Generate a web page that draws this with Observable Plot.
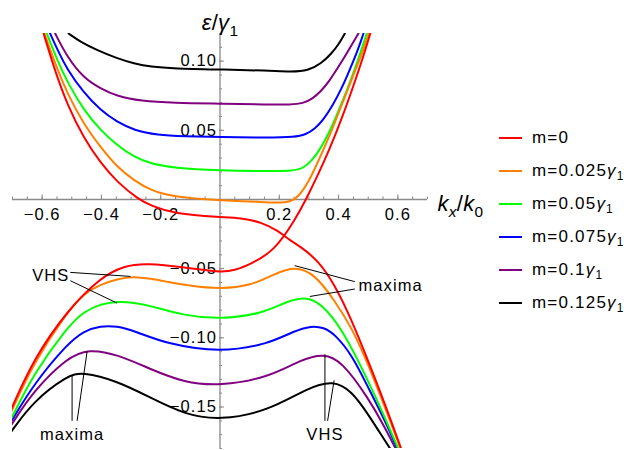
<!DOCTYPE html>
<html><head><meta charset="utf-8">
<script src="https://cdn.jsdelivr.net/npm/d3@7"></script>
<script src="https://cdn.jsdelivr.net/npm/@observablehq/plot@0.6"></script>
<style>
body{margin:0;background:#fff;}
#wrap{position:relative;width:624px;height:450px;font-family:"Liberation Sans",Arial,sans-serif;overflow:hidden;}
#legend{position:absolute;left:499px;top:122px;}
.row{display:flex;align-items:center;height:32.9px;font-size:17px;letter-spacing:1.2px;white-space:nowrap;color:#000;}
.sw{width:23px;height:2px;margin-right:10px;flex:none;}
.row sub{font-size:70%;vertical-align:-0.35em;line-height:0;}
</style></head><body><div id="wrap"><div id="legend"></div></div>
<script>
// ---- data (kx/k0, ε/γ1) ----
const seriesLabels = ["m=0", "m=0.025", "m=0.05", "m=0.075", "m=0.1", "m=0.125"];
const seriesColors = ["#ff0000", "#ff8000", "#00ff00", "#0000ff", "#800080", "#000000"];

// m = 0 (two crossing branches)
const red1 = [[-0.595,0.12],[-0.556,0.0925],[-0.516,0.069],[-0.46,0.0445],[-0.403,0.0265],[-0.347,0.0125],[-0.274,0],[-0.234,-0.0043],[-0.155,-0.0104],[0,-0.0128],[0.071,-0.0132],[0.139,-0.0164],[0.196,-0.0225],[0.229,-0.0285],[0.275,-0.0346],[0.331,-0.0442],[0.387,-0.0615],[0.444,-0.087],[0.5,-0.1167],[0.557,-0.148],[0.61,-0.1795]];
const red2 = [[-0.703,-0.151],[-0.629,-0.1155],[-0.516,-0.0804],[-0.403,-0.0563],[-0.324,-0.0478],[-0.245,-0.0461],[-0.121,-0.049],[0,-0.0527],[0.048,-0.0514],[0.105,-0.0466],[0.184,-0.037],[0.252,-0.0152],[0.29,0],[0.33,0.0175],[0.37,0.0365],[0.41,0.058],[0.45,0.082],[0.48,0.101],[0.507,0.12]];
// m = 0.025
const orangeUp = [[-0.592,0.12],[-0.556,0.098],[-0.516,0.077],[-0.46,0.0545],[-0.403,0.0379],[-0.347,0.0234],[-0.29,0.0138],[-0.234,0.0065],[-0.155,0.0017],[0,-0.0007],[0.105,-0.0012],[0.196,-0.0027],[0.24,-0.0015],[0.265,0.002],[0.3,0.013],[0.33,0.027],[0.37,0.046],[0.41,0.068],[0.45,0.09],[0.48,0.106],[0.502,0.12]];
const orangeLo = [[-0.703,-0.153],[-0.629,-0.118],[-0.516,-0.0815],[-0.46,-0.068],[-0.403,-0.0615],[-0.347,-0.0575],[-0.295,-0.0556],[-0.234,-0.0572],[-0.177,-0.0595],[-0.1,-0.0625],[0,-0.0647],[0.105,-0.0623],[0.184,-0.0538],[0.252,-0.0483],[0.32,-0.0538],[0.387,-0.0732],[0.444,-0.0925],[0.5,-0.119],[0.557,-0.1505],[0.608,-0.1795]];
// m = 0.05
const greenUp = [[-0.584,0.12],[-0.55,0.1012],[-0.516,0.0852],[-0.46,0.0648],[-0.403,0.05],[-0.347,0.0391],[-0.29,0.0307],[-0.234,0.0259],[-0.155,0.0227],[0,0.021],[0.162,0.0205],[0.25,0.0208],[0.28,0.0225],[0.31,0.028],[0.34,0.037],[0.37,0.049],[0.4,0.064],[0.43,0.08],[0.46,0.097],[0.495,0.12]];
const greenLo = [[-0.703,-0.158],[-0.629,-0.126],[-0.516,-0.0925],[-0.46,-0.081],[-0.403,-0.0756],[-0.347,-0.0737],[-0.29,-0.0745],[-0.234,-0.0768],[-0.121,-0.084],[0,-0.0865],[0.139,-0.0828],[0.229,-0.0732],[0.295,-0.0703],[0.342,-0.0756],[0.41,-0.0925],[0.5,-0.131],[0.557,-0.158],[0.605,-0.182]];
// m = 0.075
const blueUp = [[-0.573,0.12],[-0.545,0.1068],[-0.516,0.0942],[-0.46,0.0772],[-0.403,0.0645],[-0.347,0.056],[-0.29,0.05],[-0.211,0.0466],[-0.121,0.0457],[0,0.0451],[0.162,0.0447],[0.252,0.0451],[0.29,0.047],[0.32,0.051],[0.35,0.058],[0.38,0.068],[0.41,0.08],[0.44,0.095],[0.465,0.108],[0.484,0.12]];
const blueLo = [[-0.703,-0.16],[-0.629,-0.1336],[-0.516,-0.1046],[-0.46,-0.095],[-0.403,-0.0913],[-0.347,-0.0915],[-0.29,-0.0949],[-0.177,-0.1046],[0,-0.1106],[0.162,-0.1046],[0.25,-0.095],[0.308,-0.0913],[0.35,-0.0925],[0.387,-0.0973],[0.444,-0.1119],[0.5,-0.136],[0.557,-0.16],[0.602,-0.182]];
// m = 0.1
const purpleUp = [[-0.556,0.12],[-0.516,0.1031],[-0.46,0.0878],[-0.403,0.0802],[-0.347,0.0746],[-0.268,0.0712],[-0.155,0.0698],[0,0.0693],[0.162,0.0686],[0.24,0.0686],[0.28,0.0695],[0.31,0.0725],[0.34,0.078],[0.37,0.086],[0.4,0.096],[0.43,0.1065],[0.467,0.12]];
const purpleLo = [[-0.703,-0.1626],[-0.629,-0.1384],[-0.516,-0.1143],[-0.443,-0.108],[-0.347,-0.1119],[-0.234,-0.1227],[-0.121,-0.1324],[0,-0.1348],[0.162,-0.1288],[0.275,-0.1155],[0.35,-0.1114],[0.41,-0.1167],[0.5,-0.1433],[0.557,-0.165],[0.597,-0.182]];
// m = 0.125
const blackUp = [[-0.511,0.12],[-0.471,0.114],[-0.415,0.108],[-0.347,0.102],[-0.29,0.0983],[-0.234,0.0959],[-0.155,0.0947],[0,0.094],[0.162,0.0932],[0.24,0.0922],[0.297,0.093],[0.342,0.0983],[0.376,0.1056],[0.399,0.1116],[0.421,0.12]];
const blackLo = [[-0.703,-0.1674],[-0.629,-0.1457],[-0.516,-0.1275],[-0.465,-0.1246],[-0.347,-0.1312],[-0.234,-0.1433],[-0.121,-0.1553],[0,-0.1597],[0.162,-0.1529],[0.297,-0.136],[0.382,-0.1307],[0.444,-0.1384],[0.5,-0.1553],[0.557,-0.1746],[0.58,-0.182]];

const seriesBands = [[red1, red2],[orangeUp, orangeLo],[greenUp, greenLo],[blueUp, blueLo],[purpleUp, purpleLo],[blackUp, blackLo]];

// ticks
const xMajorTicks = [-0.6, -0.4, -0.2, 0.2, 0.4, 0.6];
const xTickLabels = ["−0.6", "−0.4", "−0.2", "0.2", "0.4", "0.6"];
const yMajorTicks = [-0.15, -0.10, -0.05, 0.05, 0.10];
const yTickLabels = ["−0.15", "−0.10", "−0.05", "0.05", "0.10"];

// annotations
const noteTexts = [
  {x: -0.571, y: -0.0551, text: "VHS", anchor: "middle"},
  {x: 0.467, y: -0.0625, text: "maxima", anchor: "start"},
  {x: -0.499, y: -0.1703, text: "maxima", anchor: "middle"},
  {x: 0.354, y: -0.1703, text: "VHS", anchor: "middle"}
];
const leaders = [
  {x1: -0.505, y1: -0.0527, x2: -0.302, y2: -0.0556},
  {x1: -0.505, y1: -0.0587, x2: -0.347, y2: -0.0749},
  {x1: 0.455, y1: -0.0594, x2: 0.252, y2: -0.0478},
  {x1: 0.455, y1: -0.0647, x2: 0.303, y2: -0.0701},
  {x1: -0.499, y1: -0.160, x2: -0.499, y2: -0.1275},
  {x1: -0.482, y1: -0.160, x2: -0.448, y2: -0.1094},
  {x1: 0.354, y1: -0.160, x2: 0.354, y2: -0.1118},
  {x1: 0.363, y1: -0.160, x2: 0.385, y2: -0.1307}
];

// ---- build ----
const rows = [];
seriesBands.forEach((bands, si) => bands.forEach((pts, bi) => pts.forEach(p => rows.push({s: si, band: si + "-" + bi, x: p[0], y: p[1]}))));
const drawOrder = [5, 4, 3, 2, 1, 0];
const xMinor = d3.range(-0.7, 0.7001, 0.05).map(v => +v.toFixed(2)).filter(v => Math.abs(v) > 1e-9);
const yMinor = d3.range(-0.18, 0.1201, 0.01).map(v => +v.toFixed(2)).filter(v => Math.abs(v) > 1e-9);
const AX = "#8a8a8a";

const chart = Plot.plot({
  width: 624, height: 450,
  marginLeft: 12, marginRight: 197, marginTop: 33, marginBottom: 2,
  x: {domain: [-0.7, 0.7], axis: null},
  y: {domain: [-0.18, 0.12], axis: null},
  style: {fontFamily: "'Liberation Sans', Arial, sans-serif", fontSize: "16.5px", background: "transparent", overflow: "visible", letterSpacing: "1.1px"},
  marks: [
    Plot.ruleY([0], {stroke: AX, strokeWidth: 1.3}),
    Plot.ruleX([0], {stroke: AX, strokeWidth: 1.3}),
    Plot.ruleX(xMinor, {x: d => d, y1: () => 0, y2: () => 0, insetTop: -2.5, stroke: AX, strokeWidth: 1}),
    Plot.ruleX(xMajorTicks, {x: d => d, y1: () => 0, y2: () => 0, insetTop: -4.5, stroke: AX, strokeWidth: 1}),
    Plot.ruleY(yMinor, {y: d => d, x1: () => 0, x2: () => 0, insetRight: -2.5, stroke: AX, strokeWidth: 1}),
    Plot.ruleY(yMajorTicks, {y: d => d, x1: () => 0, x2: () => 0, insetRight: -4.5, stroke: AX, strokeWidth: 1}),
    Plot.text(xMajorTicks, {x: d => d, y: () => 0, text: (d, i) => xTickLabels[i], dy: 15, fill: "black"}),
    Plot.text(yMajorTicks, {x: () => 0, y: d => d, text: (d, i) => yTickLabels[i], dx: -3, textAnchor: "end", fill: "black"}),
    ...drawOrder.map(si => Plot.line(rows.filter(r => r.s === si), {x: "x", y: "y", z: "band", stroke: seriesColors[si], strokeWidth: 2, curve: "basis", clip: true})),
    Plot.link(leaders, {x1: "x1", y1: "y1", x2: "x2", y2: "y2", stroke: "black", strokeWidth: 1}),
    Plot.text(noteTexts.filter(d => d.anchor === "middle"), {x: "x", y: "y", text: "text", textAnchor: "middle", fill: "black"}),
    Plot.text(noteTexts.filter(d => d.anchor === "start"), {x: "x", y: "y", text: "text", textAnchor: "start", fill: "black"}),
    Plot.text(["KXLABEL"], {x: () => 0.7, y: () => 0, dx: 10, dy: 4, textAnchor: "start", fontSize: 22, fill: "black"}),
    Plot.text(["EYLABEL"], {x: () => 0, y: () => 0.12, dy: -11, textAnchor: "middle", fontSize: 22, fill: "black"})
  ]
});
document.getElementById("wrap").prepend(chart);

// rich text for axis labels
const svg = d3.select(chart);
svg.selectAll("text").each(function() {
  const t = d3.select(this);
  const c = this.textContent;
  if (c === "KXLABEL" || c === "EYLABEL") {
    t.text(null).style("letter-spacing", "0.3px");
    const parts = c === "KXLABEL"
      ? [["k", true, 0], ["x", true, 1], ["/", false, 0], ["k", true, 0], ["0", false, 1]]
      : [["ε", true, 0], ["/", false, 0], ["γ", true, 0], ["1", false, 1]];
    let prev = 0;
    parts.forEach(([s, it, sub]) => {
      const shift = sub === 1 ? 0.3 : 0;
      const sp = t.append("tspan").text(s);
      if (it) sp.attr("font-style", "italic");
      if (sub === 1) sp.attr("font-size", "70%");
      const d = shift - prev;
      if (d !== 0) sp.attr("dy", (sub === 1 ? d / 0.7 : d) + "em");
      prev = shift;
    });
  }
});

// legend
const leg = d3.select("#legend");
seriesLabels.forEach((lab, i) => {
  const r = leg.append("div").attr("class", "row");
  r.append("div").attr("class", "sw").style("background", seriesColors[i]);
  const s = r.append("span");
  if (i === 0) s.text(lab);
  else s.html(lab + "<i>γ</i><sub>1</sub>");
});
</script>
</body></html>
